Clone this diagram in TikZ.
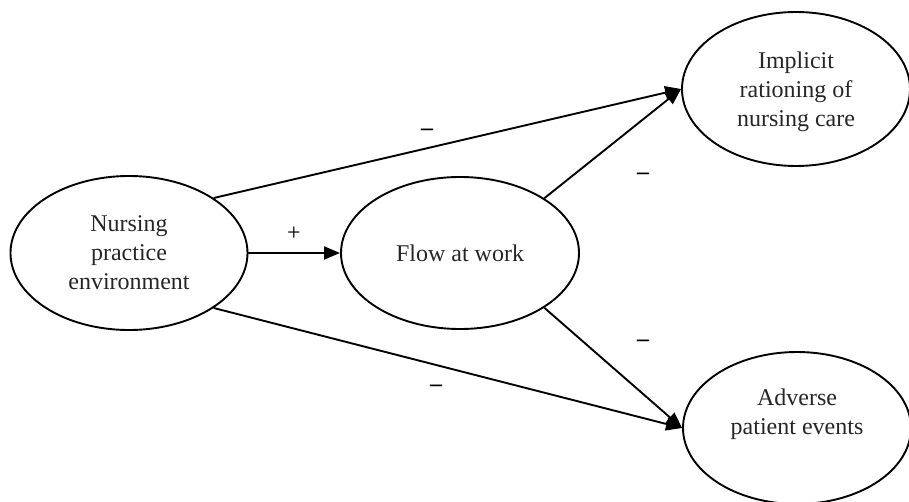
\documentclass[tikz,border=0pt]{standalone}
\usepackage{fontspec}
\setmainfont{Liberation Serif}
\usetikzlibrary{shapes.geometric,arrows.meta}
\begin{document}
\begin{tikzpicture}[x=1pt,y=-1pt,
  latent/.style={draw, ellipse, line width=1.9pt, inner sep=0pt, align=center,
     font=\fontsize{24pt}{29pt}\selectfont, text=black!85},
  lbl/.style={inner sep=0pt, align=center, font=\fontsize{24pt}{29pt}\selectfont, text=black!85},
  path/.style={line width=1.9pt, -{Triangle[length=16pt,width=13pt]}},
  sign/.style={font=\fontsize{24pt}{29pt}\selectfont\bfseries, inner sep=0pt}]
\useasboundingbox (0,0) rectangle (909,502);
\node[latent, minimum width=237pt, minimum height=154pt] (L) at (129,253) {Nursing\\practice\\environment};
\node[latent, minimum width=238pt, minimum height=152pt] (M) at (460,253) {Flow at work};
\node[latent, minimum width=228pt, minimum height=154pt] (R1) at (796,89) {};
\node[lbl] (R1t) at ([yshift=-3pt]R1.center) {Implicit\\rationing of\\nursing care};
\node[latent, minimum width=228pt, minimum height=152pt] (R2) at (797,428) {};
\node[lbl] (R2t) at ([yshift=14pt]R2.center) {Adverse\\patient events};
\draw[path] (L.east) -- (M.west);
\draw[path] (L.33) -- (R1.west);
\draw[path] (L.-33) -- (R2.west);
\draw[path] (M.33) -- (R1.west);
\draw[path] (M.-33) -- (R2.west);
\node[sign] (s1) at (294,234) {\mdseries +};
\node[sign] (s2) at (427,132) {–};
\node[sign] (s3) at (643,176) {–};
\node[sign] (s4) at (436,388) {–};
\node[sign] (s5) at (643,343) {–};
\end{tikzpicture}
\end{document}
